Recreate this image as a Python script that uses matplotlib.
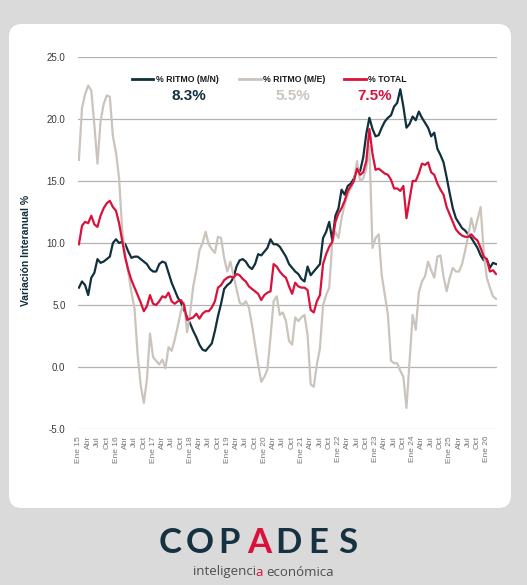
import numpy as np
import matplotlib
matplotlib.use("Agg")
import matplotlib.pyplot as plt
from matplotlib.lines import Line2D
from matplotlib.patches import FancyBboxPatch

# monthly series, Ene 2015 onwards
ritmo_mn = [6.4, 6.9, 6.6, 5.8, 7.2, 7.6, 8.7, 8.4, 8.5, 8.7,
            8.9, 10.0, 10.3, 10.0, 10.1, 9.9, 9.3, 8.8, 8.9, 8.9,
            8.7, 8.5, 8.3, 7.9, 7.7, 7.7, 8.3, 8.5, 8.4, 7.6,
            6.8, 6.2, 5.6, 5.2, 4.6, 4.0, 3.5, 2.9, 2.4, 1.8,
            1.4, 1.3, 1.6, 1.9, 2.9, 4.1, 5.1, 6.3, 6.6, 6.8,
            7.2, 8.1, 8.6, 8.7, 8.5, 8.1, 7.9, 8.3, 9.1, 9.0,
            9.3, 9.6, 10.3, 9.9, 9.9, 9.7, 9.3, 8.9, 8.3, 8.0,
            7.7, 7.5, 7.1, 6.9, 8.1, 7.4, 7.7, 8.0, 8.3, 10.4,
            10.9, 11.7, 10.2, 12.2, 12.8, 14.3, 13.9, 14.6, 14.8, 15.2,
            16.0, 15.8, 16.9, 18.8, 20.1, 19.2, 18.6, 18.7, 19.3, 19.8,
            20.1, 20.3, 21.0, 21.3, 22.4, 21.0, 19.3, 19.6, 20.2, 19.9,
            20.6, 20.1, 19.7, 19.3, 18.6, 18.9, 17.6, 17.1, 16.5, 15.3,
            14.0, 12.8, 12.0, 11.6, 11.2, 11.0, 10.7, 10.4, 10.0, 9.6,
            9.0, 8.6, 8.7, 8.0, 8.4, 8.3]
ritmo_me = [16.7, 20.9, 22.0, 22.7, 22.3, 19.5, 16.4, 19.8, 21.2, 21.9,
            21.8, 18.6, 17.3, 15.2, 11.0, 9.0, 7.6, 6.0, 4.7, 1.0,
            -1.5, -2.9, -1.0, 2.7, 0.8, 0.5, 0.2, 0.6, -0.1, 1.6,
            1.3, 2.2, 3.3, 4.5, 5.2, 2.8, 4.4, 6.5, 7.8, 9.4,
            10.0, 10.9, 9.9, 9.5, 9.2, 10.5, 10.4, 8.8, 7.7, 8.5,
            7.4, 6.3, 5.2, 5.0, 5.3, 4.8, 3.4, 1.8, 0.2, -1.2,
            -0.8, -0.2, 2.4, 5.3, 5.7, 4.2, 4.4, 3.7, 2.1, 1.8,
            4.0, 3.7, 4.0, 4.2, 2.6, -1.4, -1.6, 0.2, 1.5, 5.0,
            5.8, 6.4, 10.1, 10.9, 10.4, 12.0, 13.1, 13.9, 14.4, 15.0,
            16.6, 15.0, 15.2, 16.0, 17.8, 9.6, 10.4, 10.7, 7.4, 5.8,
            4.2, 0.5, 0.3, 0.3, -0.3, -0.8, -3.3, 0.5, 4.2, 3.0,
            6.0, 6.9, 7.3, 8.5, 7.8, 7.2, 8.9, 9.0, 7.3, 6.1,
            7.2, 8.0, 7.7, 7.7, 8.3, 9.4, 10.6, 12.0, 10.9, 11.9,
            12.9, 9.3, 7.2, 6.4, 5.7, 5.5]
total = [9.9, 11.4, 11.7, 11.6, 12.2, 11.5, 11.3, 12.2, 12.8, 13.2,
         13.4, 12.9, 12.6, 11.6, 10.2, 8.8, 7.8, 7.0, 6.4, 5.8,
         5.2, 4.5, 4.9, 5.8, 5.1, 5.0, 5.3, 5.7, 5.6, 6.0,
         5.3, 5.1, 5.3, 5.4, 5.0, 3.8, 3.9, 4.0, 4.3, 3.9,
         4.3, 4.5, 4.5, 4.8, 5.3, 6.4, 6.6, 7.0, 7.2, 7.3,
         7.2, 7.5, 7.4, 7.1, 6.9, 6.5, 6.3, 6.1, 5.9, 5.4,
         5.8, 6.0, 6.1, 8.3, 8.1, 7.7, 7.4, 7.2, 6.5, 5.9,
         6.8, 6.5, 6.4, 6.4, 6.2, 4.6, 4.4, 5.3, 5.8, 8.3,
         9.1, 9.7, 10.1, 11.7, 12.4, 12.8, 13.4, 14.2, 14.6, 15.0,
         16.0, 15.5, 15.7, 16.6, 19.2, 17.2, 15.9, 16.0, 15.8, 15.6,
         15.5, 15.1, 14.4, 14.4, 14.2, 14.6, 12.0, 13.5, 15.0, 15.0,
         15.6, 16.4, 16.3, 16.5, 15.7, 15.5, 14.8, 14.3, 13.9, 12.9,
         12.3, 11.7, 11.1, 10.8, 10.6, 10.5, 10.5, 10.7, 10.4, 10.2,
         9.6, 8.9, 8.7, 7.7, 7.8, 7.5]

series_names = ["% RITMO (M/N)", "% RITMO (M/E)", "% TOTAL"]
last_values = ["8.3%", "5.5%", "7.5%"]
meses = ["Ene", "Abr", "Jul", "Oct"]
primer_anio = 15
yticks = [-5, 0, 5, 10, 15, 20, 25]

NAVY = "#10303d"
GRAY = "#cbc4bd"
RED = "#d9123b"
colors = [NAVY, GRAY, RED]

W, H = 527, 585
plt.rcParams["font.family"] = ["Liberation Sans", "DejaVu Sans"]


def fx(px):
    return px / W


def fy(py):
    return 1 - py / H


fig = plt.figure(figsize=(W / 100, H / 100), dpi=100)
fig.patch.set_facecolor("#dadada")

card = FancyBboxPatch((0.09, (H - 508) / 100), 5.02, 4.84,
                      boxstyle="round,pad=0,rounding_size=0.13",
                      transform=fig.dpi_scale_trans, facecolor="white",
                      edgecolor="none", zorder=0)
fig.add_artist(card)

ax = fig.add_axes([fx(78), fy(429), fx(497 - 78), (429 - 57) / H])
ax.set_facecolor("none")
x = np.arange(len(total))
for vals, c in zip([ritmo_mn, ritmo_me, total], colors):
    ax.plot(x, vals, color=c, lw=1.6, solid_joinstyle="round")

ax.set_ylim(-5, 25)
ax.set_xlim(-0.3, 135.3)
ax.set_yticks(yticks)
ax.set_yticklabels([f"{v:.1f}" for v in yticks])
ax.grid(axis="y", color="#b3b3b3", lw=0.9)
ax.set_axisbelow(True)
for s in ax.spines.values():
    s.set_visible(False)

tick_pos = list(range(0, 133, 3))
tick_lab = [f"Ene {primer_anio + m // 12}" if m % 12 == 0 else meses[(m % 12) // 3]
            for m in tick_pos]
ax.set_xticks(tick_pos)
ax.set_xticklabels(tick_lab, rotation=90, fontsize=6, color="#777777")
ax.tick_params(axis="x", length=0, pad=5)
ax.tick_params(axis="y", length=0, pad=9, labelsize=7, labelcolor="#3a3a3a")

ax.set_ylabel("Variación Interanual %", fontsize=7.5, fontweight="bold", color=NAVY)
ax.yaxis.set_label_coords(-0.112, 0.48)

# legend on top of the plot
swatch_x = [(132, 153), (239, 261), (344, 366)]
text_x = [156, 263, 368]
value_x = [189, 293, 375]
for (x0, x1), tx, vx, name, val, c in zip(swatch_x, text_x, value_x,
                                          series_names, last_values, colors):
    fig.add_artist(Line2D([fx(x0), fx(x1)], [fy(79), fy(79)], color=c, lw=2,
                          transform=fig.transFigure))
    fig.text(fx(tx), fy(79), name, fontsize=6.3, fontweight="bold",
             color="#1a1a1a", va="center", ha="left")
    fig.text(fx(vx), fy(96), val, fontsize=11, fontweight="bold",
             color=c, va="center", ha="center")

# logo
letras = "COPADES"
for i, ch in enumerate(letras):
    fig.text(fx(170 + 29.7 * i), fy(543), ch, fontsize=25, fontweight="bold",
             family="Lato", color=RED if ch == "A" else "#163241",
             ha="center", va="center")

# tagline with a red "a"
lema = "inteligencia económica"
tag_kw = dict(fontsize=9.5, family="Open Sans", va="center", ha="left")
r = fig.canvas.get_renderer()


def ancho(s):
    t = fig.text(0, 0, s, **tag_kw)
    w = t.get_window_extent(r).width
    t.remove()
    return w


w_all = ancho(lema)
x0 = W / 2 - w_all / 2
fig.text(fx(x0), fy(572), "inteligenci", color="#4d4d4d", **tag_kw)
fig.text(fx(x0 + ancho("inteligencia") - ancho("a")), fy(572), "a", color=RED, **tag_kw)
fig.text(fx(x0 + w_all - ancho("económica")), fy(572), "económica",
         color="#4d4d4d", **tag_kw)

fig.savefig("out.png", dpi=100, facecolor=fig.get_facecolor())
